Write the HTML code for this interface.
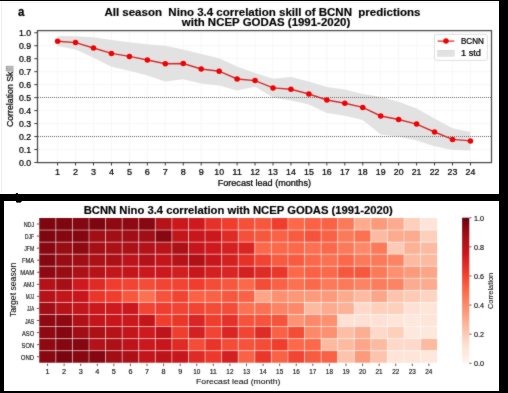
<!DOCTYPE html><html><head><meta charset="utf-8"><style>html,body{margin:0;padding:0;background:#fff;width:508px;height:393px;overflow:hidden}</style></head><body><svg width="508" height="393" viewBox="0 0 508 393" style="display:block" font-family='"Liberation Sans", sans-serif'>
<defs><filter id='bl' x='0' y='0' width='508' height='393' filterUnits='userSpaceOnUse' color-interpolation-filters='sRGB'><feConvolveMatrix order='3' kernelMatrix='1 2 1 2 24 2 1 2 1' edgeMode='duplicate' preserveAlpha='true'/></filter></defs>
<g filter='url(#bl)'>
<rect x="0" y="0" width="508" height="393" fill="#fff"/>
<line x1="37.5" x2="491.5" y1="162.50" y2="162.50" stroke="#f5f5f5" stroke-width="0.8"/>
<line x1="37.5" x2="491.5" y1="149.53" y2="149.53" stroke="#f5f5f5" stroke-width="0.8"/>
<line x1="37.5" x2="491.5" y1="136.55" y2="136.55" stroke="#f5f5f5" stroke-width="0.8"/>
<line x1="37.5" x2="491.5" y1="123.58" y2="123.58" stroke="#f5f5f5" stroke-width="0.8"/>
<line x1="37.5" x2="491.5" y1="110.60" y2="110.60" stroke="#f5f5f5" stroke-width="0.8"/>
<line x1="37.5" x2="491.5" y1="97.62" y2="97.62" stroke="#f5f5f5" stroke-width="0.8"/>
<line x1="37.5" x2="491.5" y1="84.65" y2="84.65" stroke="#f5f5f5" stroke-width="0.8"/>
<line x1="37.5" x2="491.5" y1="71.68" y2="71.68" stroke="#f5f5f5" stroke-width="0.8"/>
<line x1="37.5" x2="491.5" y1="58.70" y2="58.70" stroke="#f5f5f5" stroke-width="0.8"/>
<line x1="37.5" x2="491.5" y1="45.72" y2="45.72" stroke="#f5f5f5" stroke-width="0.8"/>
<line x1="37.5" x2="491.5" y1="32.75" y2="32.75" stroke="#f5f5f5" stroke-width="0.8"/>
<line x1="57.60" x2="57.60" y1="30.5" y2="162.5" stroke="#f5f5f5" stroke-width="0.8"/>
<line x1="75.55" x2="75.55" y1="30.5" y2="162.5" stroke="#f5f5f5" stroke-width="0.8"/>
<line x1="93.50" x2="93.50" y1="30.5" y2="162.5" stroke="#f5f5f5" stroke-width="0.8"/>
<line x1="111.45" x2="111.45" y1="30.5" y2="162.5" stroke="#f5f5f5" stroke-width="0.8"/>
<line x1="129.40" x2="129.40" y1="30.5" y2="162.5" stroke="#f5f5f5" stroke-width="0.8"/>
<line x1="147.35" x2="147.35" y1="30.5" y2="162.5" stroke="#f5f5f5" stroke-width="0.8"/>
<line x1="165.30" x2="165.30" y1="30.5" y2="162.5" stroke="#f5f5f5" stroke-width="0.8"/>
<line x1="183.25" x2="183.25" y1="30.5" y2="162.5" stroke="#f5f5f5" stroke-width="0.8"/>
<line x1="201.20" x2="201.20" y1="30.5" y2="162.5" stroke="#f5f5f5" stroke-width="0.8"/>
<line x1="219.15" x2="219.15" y1="30.5" y2="162.5" stroke="#f5f5f5" stroke-width="0.8"/>
<line x1="237.10" x2="237.10" y1="30.5" y2="162.5" stroke="#f5f5f5" stroke-width="0.8"/>
<line x1="255.05" x2="255.05" y1="30.5" y2="162.5" stroke="#f5f5f5" stroke-width="0.8"/>
<line x1="273.00" x2="273.00" y1="30.5" y2="162.5" stroke="#f5f5f5" stroke-width="0.8"/>
<line x1="290.95" x2="290.95" y1="30.5" y2="162.5" stroke="#f5f5f5" stroke-width="0.8"/>
<line x1="308.90" x2="308.90" y1="30.5" y2="162.5" stroke="#f5f5f5" stroke-width="0.8"/>
<line x1="326.85" x2="326.85" y1="30.5" y2="162.5" stroke="#f5f5f5" stroke-width="0.8"/>
<line x1="344.80" x2="344.80" y1="30.5" y2="162.5" stroke="#f5f5f5" stroke-width="0.8"/>
<line x1="362.75" x2="362.75" y1="30.5" y2="162.5" stroke="#f5f5f5" stroke-width="0.8"/>
<line x1="380.70" x2="380.70" y1="30.5" y2="162.5" stroke="#f5f5f5" stroke-width="0.8"/>
<line x1="398.65" x2="398.65" y1="30.5" y2="162.5" stroke="#f5f5f5" stroke-width="0.8"/>
<line x1="416.60" x2="416.60" y1="30.5" y2="162.5" stroke="#f5f5f5" stroke-width="0.8"/>
<line x1="434.55" x2="434.55" y1="30.5" y2="162.5" stroke="#f5f5f5" stroke-width="0.8"/>
<line x1="452.50" x2="452.50" y1="30.5" y2="162.5" stroke="#f5f5f5" stroke-width="0.8"/>
<line x1="470.45" x2="470.45" y1="30.5" y2="162.5" stroke="#f5f5f5" stroke-width="0.8"/>
<polygon points="57.60,36.10 75.55,36.20 93.50,37.20 111.45,40.10 129.40,42.20 147.35,44.20 165.30,45.80 183.25,49.50 201.20,54.00 219.15,58.30 237.10,66.50 255.05,72.90 273.00,78.80 290.95,77.10 308.90,81.50 326.85,87.10 344.80,89.60 362.75,94.10 380.70,97.00 398.65,101.80 416.60,108.60 434.55,118.60 452.50,128.30 470.45,132.00 470.45,150.40 452.50,150.00 434.55,146.30 416.60,140.50 398.65,136.50 380.70,134.50 362.75,120.10 344.80,115.70 326.85,113.00 308.90,104.40 290.95,100.60 273.00,97.40 255.05,86.80 237.10,90.40 219.15,85.50 201.20,83.40 183.25,79.20 165.30,81.50 147.35,75.50 129.40,70.80 111.45,66.80 93.50,57.80 75.55,49.50 57.60,45.90" fill="#e2e2e2"/>
<line x1="38" x2="491" y1="97.50" y2="97.50" stroke="#6e6e6e" stroke-width="1" stroke-dasharray="1 1"/>
<line x1="38" x2="491" y1="136.50" y2="136.50" stroke="#6e6e6e" stroke-width="1" stroke-dasharray="1 1"/>
<polyline points="57.60,41.20 75.55,42.60 93.50,48.00 111.45,53.40 129.40,56.40 147.35,60.00 165.30,63.70 183.25,63.50 201.20,69.00 219.15,71.20 237.10,79.00 255.05,80.60 273.00,87.90 290.95,89.20 308.90,94.00 326.85,100.00 344.80,103.30 362.75,107.40 380.70,116.00 398.65,119.50 416.60,124.10 434.55,132.00 452.50,139.40 470.45,140.90" fill="none" stroke="#d82a2a" stroke-width="1.4"/>
<circle cx="57.60" cy="41.20" r="2.75" fill="#f00000"/>
<circle cx="75.55" cy="42.60" r="2.75" fill="#f00000"/>
<circle cx="93.50" cy="48.00" r="2.75" fill="#f00000"/>
<circle cx="111.45" cy="53.40" r="2.75" fill="#f00000"/>
<circle cx="129.40" cy="56.40" r="2.75" fill="#f00000"/>
<circle cx="147.35" cy="60.00" r="2.75" fill="#f00000"/>
<circle cx="165.30" cy="63.70" r="2.75" fill="#f00000"/>
<circle cx="183.25" cy="63.50" r="2.75" fill="#f00000"/>
<circle cx="201.20" cy="69.00" r="2.75" fill="#f00000"/>
<circle cx="219.15" cy="71.20" r="2.75" fill="#f00000"/>
<circle cx="237.10" cy="79.00" r="2.75" fill="#f00000"/>
<circle cx="255.05" cy="80.60" r="2.75" fill="#f00000"/>
<circle cx="273.00" cy="87.90" r="2.75" fill="#f00000"/>
<circle cx="290.95" cy="89.20" r="2.75" fill="#f00000"/>
<circle cx="308.90" cy="94.00" r="2.75" fill="#f00000"/>
<circle cx="326.85" cy="100.00" r="2.75" fill="#f00000"/>
<circle cx="344.80" cy="103.30" r="2.75" fill="#f00000"/>
<circle cx="362.75" cy="107.40" r="2.75" fill="#f00000"/>
<circle cx="380.70" cy="116.00" r="2.75" fill="#f00000"/>
<circle cx="398.65" cy="119.50" r="2.75" fill="#f00000"/>
<circle cx="416.60" cy="124.10" r="2.75" fill="#f00000"/>
<circle cx="434.55" cy="132.00" r="2.75" fill="#f00000"/>
<circle cx="452.50" cy="139.40" r="2.75" fill="#f00000"/>
<circle cx="470.45" cy="140.90" r="2.75" fill="#f00000"/>
<rect x="37.5" y="30.6" width="454.0" height="132.0" fill="none" stroke="#4a4a4a" stroke-width="1.25"/>
<line x1="34.3" x2="37.5" y1="162.50" y2="162.50" stroke="#3a3a3a" stroke-width="1"/>
<text xml:space="preserve" x="31.10" y="165.50" font-size="8.59" fill="#000" stroke="#000" stroke-width="0.24" text-anchor="end" textLength="12.20" lengthAdjust="spacingAndGlyphs">0.0</text>
<line x1="34.3" x2="37.5" y1="149.53" y2="149.53" stroke="#3a3a3a" stroke-width="1"/>
<text xml:space="preserve" x="31.10" y="152.53" font-size="8.59" fill="#000" stroke="#000" stroke-width="0.24" text-anchor="end" textLength="12.20" lengthAdjust="spacingAndGlyphs">0.1</text>
<line x1="34.3" x2="37.5" y1="136.55" y2="136.55" stroke="#3a3a3a" stroke-width="1"/>
<text xml:space="preserve" x="31.10" y="139.55" font-size="8.59" fill="#000" stroke="#000" stroke-width="0.24" text-anchor="end" textLength="12.20" lengthAdjust="spacingAndGlyphs">0.2</text>
<line x1="34.3" x2="37.5" y1="123.58" y2="123.58" stroke="#3a3a3a" stroke-width="1"/>
<text xml:space="preserve" x="31.10" y="126.58" font-size="8.59" fill="#000" stroke="#000" stroke-width="0.24" text-anchor="end" textLength="12.20" lengthAdjust="spacingAndGlyphs">0.3</text>
<line x1="34.3" x2="37.5" y1="110.60" y2="110.60" stroke="#3a3a3a" stroke-width="1"/>
<text xml:space="preserve" x="31.10" y="113.60" font-size="8.59" fill="#000" stroke="#000" stroke-width="0.24" text-anchor="end" textLength="12.20" lengthAdjust="spacingAndGlyphs">0.4</text>
<line x1="34.3" x2="37.5" y1="97.62" y2="97.62" stroke="#3a3a3a" stroke-width="1"/>
<text xml:space="preserve" x="31.10" y="100.62" font-size="8.59" fill="#000" stroke="#000" stroke-width="0.24" text-anchor="end" textLength="12.20" lengthAdjust="spacingAndGlyphs">0.5</text>
<line x1="34.3" x2="37.5" y1="84.65" y2="84.65" stroke="#3a3a3a" stroke-width="1"/>
<text xml:space="preserve" x="31.10" y="87.65" font-size="8.59" fill="#000" stroke="#000" stroke-width="0.24" text-anchor="end" textLength="12.20" lengthAdjust="spacingAndGlyphs">0.6</text>
<line x1="34.3" x2="37.5" y1="71.68" y2="71.68" stroke="#3a3a3a" stroke-width="1"/>
<text xml:space="preserve" x="31.10" y="74.68" font-size="8.59" fill="#000" stroke="#000" stroke-width="0.24" text-anchor="end" textLength="12.20" lengthAdjust="spacingAndGlyphs">0.7</text>
<line x1="34.3" x2="37.5" y1="58.70" y2="58.70" stroke="#3a3a3a" stroke-width="1"/>
<text xml:space="preserve" x="31.10" y="61.70" font-size="8.59" fill="#000" stroke="#000" stroke-width="0.24" text-anchor="end" textLength="12.20" lengthAdjust="spacingAndGlyphs">0.8</text>
<line x1="34.3" x2="37.5" y1="45.72" y2="45.72" stroke="#3a3a3a" stroke-width="1"/>
<text xml:space="preserve" x="31.10" y="48.72" font-size="8.59" fill="#000" stroke="#000" stroke-width="0.24" text-anchor="end" textLength="12.20" lengthAdjust="spacingAndGlyphs">0.9</text>
<line x1="34.3" x2="37.5" y1="32.75" y2="32.75" stroke="#3a3a3a" stroke-width="1"/>
<text xml:space="preserve" x="31.10" y="35.75" font-size="8.59" fill="#000" stroke="#000" stroke-width="0.24" text-anchor="end" textLength="12.20" lengthAdjust="spacingAndGlyphs">1.0</text>
<line x1="57.60" x2="57.60" y1="162.5" y2="165.5" stroke="#3a3a3a" stroke-width="1"/>
<text xml:space="preserve" x="57.60" y="175.00" font-size="9.05" fill="#000" stroke="#000" stroke-width="0.24" text-anchor="middle">1</text>
<line x1="75.55" x2="75.55" y1="162.5" y2="165.5" stroke="#3a3a3a" stroke-width="1"/>
<text xml:space="preserve" x="75.55" y="175.00" font-size="9.05" fill="#000" stroke="#000" stroke-width="0.24" text-anchor="middle">2</text>
<line x1="93.50" x2="93.50" y1="162.5" y2="165.5" stroke="#3a3a3a" stroke-width="1"/>
<text xml:space="preserve" x="93.50" y="175.00" font-size="9.05" fill="#000" stroke="#000" stroke-width="0.24" text-anchor="middle">3</text>
<line x1="111.45" x2="111.45" y1="162.5" y2="165.5" stroke="#3a3a3a" stroke-width="1"/>
<text xml:space="preserve" x="111.45" y="175.00" font-size="9.05" fill="#000" stroke="#000" stroke-width="0.24" text-anchor="middle">4</text>
<line x1="129.40" x2="129.40" y1="162.5" y2="165.5" stroke="#3a3a3a" stroke-width="1"/>
<text xml:space="preserve" x="129.40" y="175.00" font-size="9.05" fill="#000" stroke="#000" stroke-width="0.24" text-anchor="middle">5</text>
<line x1="147.35" x2="147.35" y1="162.5" y2="165.5" stroke="#3a3a3a" stroke-width="1"/>
<text xml:space="preserve" x="147.35" y="175.00" font-size="9.05" fill="#000" stroke="#000" stroke-width="0.24" text-anchor="middle">6</text>
<line x1="165.30" x2="165.30" y1="162.5" y2="165.5" stroke="#3a3a3a" stroke-width="1"/>
<text xml:space="preserve" x="165.30" y="175.00" font-size="9.05" fill="#000" stroke="#000" stroke-width="0.24" text-anchor="middle">7</text>
<line x1="183.25" x2="183.25" y1="162.5" y2="165.5" stroke="#3a3a3a" stroke-width="1"/>
<text xml:space="preserve" x="183.25" y="175.00" font-size="9.05" fill="#000" stroke="#000" stroke-width="0.24" text-anchor="middle">8</text>
<line x1="201.20" x2="201.20" y1="162.5" y2="165.5" stroke="#3a3a3a" stroke-width="1"/>
<text xml:space="preserve" x="201.20" y="175.00" font-size="9.05" fill="#000" stroke="#000" stroke-width="0.24" text-anchor="middle">9</text>
<line x1="219.15" x2="219.15" y1="162.5" y2="165.5" stroke="#3a3a3a" stroke-width="1"/>
<text xml:space="preserve" x="219.15" y="175.00" font-size="9.05" fill="#000" stroke="#000" stroke-width="0.24" text-anchor="middle" textLength="9.76" lengthAdjust="spacingAndGlyphs">10</text>
<line x1="237.10" x2="237.10" y1="162.5" y2="165.5" stroke="#3a3a3a" stroke-width="1"/>
<text xml:space="preserve" x="237.10" y="175.00" font-size="9.05" fill="#000" stroke="#000" stroke-width="0.24" text-anchor="middle" textLength="9.76" lengthAdjust="spacingAndGlyphs">11</text>
<line x1="255.05" x2="255.05" y1="162.5" y2="165.5" stroke="#3a3a3a" stroke-width="1"/>
<text xml:space="preserve" x="255.05" y="175.00" font-size="9.05" fill="#000" stroke="#000" stroke-width="0.24" text-anchor="middle" textLength="9.76" lengthAdjust="spacingAndGlyphs">12</text>
<line x1="273.00" x2="273.00" y1="162.5" y2="165.5" stroke="#3a3a3a" stroke-width="1"/>
<text xml:space="preserve" x="273.00" y="175.00" font-size="9.05" fill="#000" stroke="#000" stroke-width="0.24" text-anchor="middle" textLength="9.76" lengthAdjust="spacingAndGlyphs">13</text>
<line x1="290.95" x2="290.95" y1="162.5" y2="165.5" stroke="#3a3a3a" stroke-width="1"/>
<text xml:space="preserve" x="290.95" y="175.00" font-size="9.05" fill="#000" stroke="#000" stroke-width="0.24" text-anchor="middle" textLength="9.76" lengthAdjust="spacingAndGlyphs">14</text>
<line x1="308.90" x2="308.90" y1="162.5" y2="165.5" stroke="#3a3a3a" stroke-width="1"/>
<text xml:space="preserve" x="308.90" y="175.00" font-size="9.05" fill="#000" stroke="#000" stroke-width="0.24" text-anchor="middle" textLength="9.76" lengthAdjust="spacingAndGlyphs">15</text>
<line x1="326.85" x2="326.85" y1="162.5" y2="165.5" stroke="#3a3a3a" stroke-width="1"/>
<text xml:space="preserve" x="326.85" y="175.00" font-size="9.05" fill="#000" stroke="#000" stroke-width="0.24" text-anchor="middle" textLength="9.76" lengthAdjust="spacingAndGlyphs">16</text>
<line x1="344.80" x2="344.80" y1="162.5" y2="165.5" stroke="#3a3a3a" stroke-width="1"/>
<text xml:space="preserve" x="344.80" y="175.00" font-size="9.05" fill="#000" stroke="#000" stroke-width="0.24" text-anchor="middle" textLength="9.76" lengthAdjust="spacingAndGlyphs">17</text>
<line x1="362.75" x2="362.75" y1="162.5" y2="165.5" stroke="#3a3a3a" stroke-width="1"/>
<text xml:space="preserve" x="362.75" y="175.00" font-size="9.05" fill="#000" stroke="#000" stroke-width="0.24" text-anchor="middle" textLength="9.76" lengthAdjust="spacingAndGlyphs">18</text>
<line x1="380.70" x2="380.70" y1="162.5" y2="165.5" stroke="#3a3a3a" stroke-width="1"/>
<text xml:space="preserve" x="380.70" y="175.00" font-size="9.05" fill="#000" stroke="#000" stroke-width="0.24" text-anchor="middle" textLength="9.76" lengthAdjust="spacingAndGlyphs">19</text>
<line x1="398.65" x2="398.65" y1="162.5" y2="165.5" stroke="#3a3a3a" stroke-width="1"/>
<text xml:space="preserve" x="398.65" y="175.00" font-size="9.05" fill="#000" stroke="#000" stroke-width="0.24" text-anchor="middle" textLength="9.76" lengthAdjust="spacingAndGlyphs">20</text>
<line x1="416.60" x2="416.60" y1="162.5" y2="165.5" stroke="#3a3a3a" stroke-width="1"/>
<text xml:space="preserve" x="416.60" y="175.00" font-size="9.05" fill="#000" stroke="#000" stroke-width="0.24" text-anchor="middle" textLength="9.76" lengthAdjust="spacingAndGlyphs">21</text>
<line x1="434.55" x2="434.55" y1="162.5" y2="165.5" stroke="#3a3a3a" stroke-width="1"/>
<text xml:space="preserve" x="434.55" y="175.00" font-size="9.05" fill="#000" stroke="#000" stroke-width="0.24" text-anchor="middle" textLength="9.76" lengthAdjust="spacingAndGlyphs">22</text>
<line x1="452.50" x2="452.50" y1="162.5" y2="165.5" stroke="#3a3a3a" stroke-width="1"/>
<text xml:space="preserve" x="452.50" y="175.00" font-size="9.05" fill="#000" stroke="#000" stroke-width="0.24" text-anchor="middle" textLength="9.76" lengthAdjust="spacingAndGlyphs">23</text>
<line x1="470.45" x2="470.45" y1="162.5" y2="165.5" stroke="#3a3a3a" stroke-width="1"/>
<text xml:space="preserve" x="470.45" y="175.00" font-size="9.05" fill="#000" stroke="#000" stroke-width="0.24" text-anchor="middle" textLength="9.76" lengthAdjust="spacingAndGlyphs">24</text>
<text xml:space="preserve" x="217.70" y="186.20" font-size="8.39" fill="#000" stroke="#000" stroke-width="0.24" text-anchor="start" textLength="93.30" lengthAdjust="spacingAndGlyphs">Forecast lead (months)</text>
<text xml:space="preserve" transform="translate(13.30,127.10) rotate(-90)" font-size="8.58" fill="#000" stroke="#000" stroke-width="0.24" text-anchor="start" textLength="61.40" lengthAdjust="spacingAndGlyphs">Correlation Skill</text>
<rect x="6.2" y="65.8" width="7.2" height="5.7" fill="#b0b0b0"/>
<rect x="7.6" y="67.6" width="5.2" height="0.8" fill="#c4c4c4"/>
<text xml:space="preserve" transform="translate(18.0,15.7) scale(0.86,1)" font-size="13.4" font-weight="bold" fill="#000" stroke="#000" stroke-width="0.25">a</text>
<text xml:space="preserve" x="104.40" y="15.80" font-size="10.16" font-weight="bold" fill="#000" stroke="#000" stroke-width="0.15" text-anchor="start" textLength="316.00" lengthAdjust="spacingAndGlyphs">All season  Nino 3.4 correlation skill of BCNN  predictions</text>
<text xml:space="preserve" x="181.80" y="26.10" font-size="10.08" font-weight="bold" fill="#000" stroke="#000" stroke-width="0.15" text-anchor="start" textLength="168.40" lengthAdjust="spacingAndGlyphs">with NCEP GODAS (1991-2020)</text>
<rect x="434.5" y="34.4" width="52.9" height="26" rx="2" fill="#fff" fill-opacity="0.85" stroke="#d8d8d8" stroke-width="0.8"/>
<line x1="437.6" x2="454.3" y1="41.1" y2="41.1" stroke="#e03030" stroke-width="1.3"/>
<circle cx="446.0" cy="41.1" r="2.75" fill="#f00000"/>
<rect x="437.6" y="50.2" width="16.7" height="6" fill="#e2e2e2" stroke="#d0d0d0" stroke-width="0.4"/>
<text xml:space="preserve" x="461.00" y="43.90" font-size="8.28" fill="#000" stroke="#000" stroke-width="0.24" text-anchor="start" textLength="22.80" lengthAdjust="spacingAndGlyphs">BCNN</text>
<text xml:space="preserve" x="461.00" y="56.00" font-size="8.28" fill="#000" stroke="#000" stroke-width="0.24" text-anchor="start" textLength="19.91" lengthAdjust="spacingAndGlyphs">1 std</text>
<rect x="39.25" y="218.00" width="16.58" height="12.06" fill="#7e0610"/>
<rect x="55.83" y="218.00" width="16.58" height="12.06" fill="#7e0610"/>
<rect x="72.41" y="218.00" width="16.58" height="12.06" fill="#840711"/>
<rect x="88.99" y="218.00" width="16.58" height="12.06" fill="#7e0610"/>
<rect x="105.57" y="218.00" width="16.58" height="12.06" fill="#8e0912"/>
<rect x="122.15" y="218.00" width="16.58" height="12.06" fill="#8e0912"/>
<rect x="138.73" y="218.00" width="16.58" height="12.06" fill="#880811"/>
<rect x="155.31" y="218.00" width="16.58" height="12.06" fill="#b61319"/>
<rect x="171.89" y="218.00" width="16.58" height="12.06" fill="#ca181d"/>
<rect x="188.47" y="218.00" width="16.58" height="12.06" fill="#ce1a1e"/>
<rect x="205.05" y="218.00" width="16.58" height="12.06" fill="#e53228"/>
<rect x="221.63" y="218.00" width="16.58" height="12.06" fill="#f03d2d"/>
<rect x="238.21" y="218.00" width="16.58" height="12.06" fill="#f4503a"/>
<rect x="254.79" y="218.00" width="16.58" height="12.06" fill="#f6583e"/>
<rect x="271.37" y="218.00" width="16.58" height="12.06" fill="#f03d2d"/>
<rect x="287.95" y="218.00" width="16.58" height="12.06" fill="#fb694a"/>
<rect x="304.53" y="218.00" width="16.58" height="12.06" fill="#f96245"/>
<rect x="321.11" y="218.00" width="16.58" height="12.06" fill="#f96245"/>
<rect x="337.69" y="218.00" width="16.58" height="12.06" fill="#fb7a5a"/>
<rect x="354.27" y="218.00" width="16.58" height="12.06" fill="#fcab8f"/>
<rect x="370.85" y="218.00" width="16.58" height="12.06" fill="#fc9b7c"/>
<rect x="387.43" y="218.00" width="16.58" height="12.06" fill="#fcab8f"/>
<rect x="404.01" y="218.00" width="16.58" height="12.06" fill="#fdd0bc"/>
<rect x="420.59" y="218.00" width="16.58" height="12.06" fill="#fee5d8"/>
<rect x="39.25" y="230.06" width="16.58" height="12.06" fill="#7e0610"/>
<rect x="55.83" y="230.06" width="16.58" height="12.06" fill="#840711"/>
<rect x="72.41" y="230.06" width="16.58" height="12.06" fill="#840711"/>
<rect x="88.99" y="230.06" width="16.58" height="12.06" fill="#a10e15"/>
<rect x="105.57" y="230.06" width="16.58" height="12.06" fill="#a10e15"/>
<rect x="122.15" y="230.06" width="16.58" height="12.06" fill="#a10e15"/>
<rect x="138.73" y="230.06" width="16.58" height="12.06" fill="#a10e15"/>
<rect x="155.31" y="230.06" width="16.58" height="12.06" fill="#880811"/>
<rect x="171.89" y="230.06" width="16.58" height="12.06" fill="#c2161b"/>
<rect x="188.47" y="230.06" width="16.58" height="12.06" fill="#c8171c"/>
<rect x="205.05" y="230.06" width="16.58" height="12.06" fill="#ca181d"/>
<rect x="221.63" y="230.06" width="16.58" height="12.06" fill="#de2b25"/>
<rect x="238.21" y="230.06" width="16.58" height="12.06" fill="#f4503a"/>
<rect x="254.79" y="230.06" width="16.58" height="12.06" fill="#f6583e"/>
<rect x="271.37" y="230.06" width="16.58" height="12.06" fill="#f96245"/>
<rect x="287.95" y="230.06" width="16.58" height="12.06" fill="#f75b40"/>
<rect x="304.53" y="230.06" width="16.58" height="12.06" fill="#f5533b"/>
<rect x="321.11" y="230.06" width="16.58" height="12.06" fill="#f96245"/>
<rect x="337.69" y="230.06" width="16.58" height="12.06" fill="#fb7a5a"/>
<rect x="354.27" y="230.06" width="16.58" height="12.06" fill="#fb7151"/>
<rect x="370.85" y="230.06" width="16.58" height="12.06" fill="#fcbba1"/>
<rect x="387.43" y="230.06" width="16.58" height="12.06" fill="#fcab8f"/>
<rect x="404.01" y="230.06" width="16.58" height="12.06" fill="#fcab8f"/>
<rect x="420.59" y="230.06" width="16.58" height="12.06" fill="#fdd0bc"/>
<rect x="39.25" y="242.12" width="16.58" height="12.06" fill="#880811"/>
<rect x="55.83" y="242.12" width="16.58" height="12.06" fill="#980c13"/>
<rect x="72.41" y="242.12" width="16.58" height="12.06" fill="#8e0912"/>
<rect x="88.99" y="242.12" width="16.58" height="12.06" fill="#a60f15"/>
<rect x="105.57" y="242.12" width="16.58" height="12.06" fill="#ac1117"/>
<rect x="122.15" y="242.12" width="16.58" height="12.06" fill="#ac1117"/>
<rect x="138.73" y="242.12" width="16.58" height="12.06" fill="#b21218"/>
<rect x="155.31" y="242.12" width="16.58" height="12.06" fill="#b81419"/>
<rect x="171.89" y="242.12" width="16.58" height="12.06" fill="#ac1117"/>
<rect x="188.47" y="242.12" width="16.58" height="12.06" fill="#c4161c"/>
<rect x="205.05" y="242.12" width="16.58" height="12.06" fill="#ce1a1e"/>
<rect x="221.63" y="242.12" width="16.58" height="12.06" fill="#d32020"/>
<rect x="238.21" y="242.12" width="16.58" height="12.06" fill="#d92523"/>
<rect x="254.79" y="242.12" width="16.58" height="12.06" fill="#fb694a"/>
<rect x="271.37" y="242.12" width="16.58" height="12.06" fill="#fb694a"/>
<rect x="287.95" y="242.12" width="16.58" height="12.06" fill="#fb694a"/>
<rect x="304.53" y="242.12" width="16.58" height="12.06" fill="#fb7151"/>
<rect x="321.11" y="242.12" width="16.58" height="12.06" fill="#fb694a"/>
<rect x="337.69" y="242.12" width="16.58" height="12.06" fill="#fb7a5a"/>
<rect x="354.27" y="242.12" width="16.58" height="12.06" fill="#fc8a6a"/>
<rect x="370.85" y="242.12" width="16.58" height="12.06" fill="#fb7a5a"/>
<rect x="387.43" y="242.12" width="16.58" height="12.06" fill="#fdcab5"/>
<rect x="404.01" y="242.12" width="16.58" height="12.06" fill="#fcb296"/>
<rect x="420.59" y="242.12" width="16.58" height="12.06" fill="#fcbba1"/>
<rect x="39.25" y="254.18" width="16.58" height="12.06" fill="#840711"/>
<rect x="55.83" y="254.18" width="16.58" height="12.06" fill="#980c13"/>
<rect x="72.41" y="254.18" width="16.58" height="12.06" fill="#a10e15"/>
<rect x="88.99" y="254.18" width="16.58" height="12.06" fill="#ac1117"/>
<rect x="105.57" y="254.18" width="16.58" height="12.06" fill="#ac1117"/>
<rect x="122.15" y="254.18" width="16.58" height="12.06" fill="#bc141a"/>
<rect x="138.73" y="254.18" width="16.58" height="12.06" fill="#b21218"/>
<rect x="155.31" y="254.18" width="16.58" height="12.06" fill="#c2161b"/>
<rect x="171.89" y="254.18" width="16.58" height="12.06" fill="#b61319"/>
<rect x="188.47" y="254.18" width="16.58" height="12.06" fill="#af1117"/>
<rect x="205.05" y="254.18" width="16.58" height="12.06" fill="#c8171c"/>
<rect x="221.63" y="254.18" width="16.58" height="12.06" fill="#d32020"/>
<rect x="238.21" y="254.18" width="16.58" height="12.06" fill="#e53228"/>
<rect x="254.79" y="254.18" width="16.58" height="12.06" fill="#f14432"/>
<rect x="271.37" y="254.18" width="16.58" height="12.06" fill="#f75b40"/>
<rect x="287.95" y="254.18" width="16.58" height="12.06" fill="#f75b40"/>
<rect x="304.53" y="254.18" width="16.58" height="12.06" fill="#fb694a"/>
<rect x="321.11" y="254.18" width="16.58" height="12.06" fill="#fb7151"/>
<rect x="337.69" y="254.18" width="16.58" height="12.06" fill="#fb694a"/>
<rect x="354.27" y="254.18" width="16.58" height="12.06" fill="#fb7a5a"/>
<rect x="370.85" y="254.18" width="16.58" height="12.06" fill="#fb7a5a"/>
<rect x="387.43" y="254.18" width="16.58" height="12.06" fill="#fc8464"/>
<rect x="404.01" y="254.18" width="16.58" height="12.06" fill="#fcbba1"/>
<rect x="420.59" y="254.18" width="16.58" height="12.06" fill="#fcbba1"/>
<rect x="39.25" y="266.24" width="16.58" height="12.06" fill="#8e0912"/>
<rect x="55.83" y="266.24" width="16.58" height="12.06" fill="#980c13"/>
<rect x="72.41" y="266.24" width="16.58" height="12.06" fill="#ac1117"/>
<rect x="88.99" y="266.24" width="16.58" height="12.06" fill="#b61319"/>
<rect x="105.57" y="266.24" width="16.58" height="12.06" fill="#c2161b"/>
<rect x="122.15" y="266.24" width="16.58" height="12.06" fill="#c2161b"/>
<rect x="138.73" y="266.24" width="16.58" height="12.06" fill="#ca181d"/>
<rect x="155.31" y="266.24" width="16.58" height="12.06" fill="#ca181d"/>
<rect x="171.89" y="266.24" width="16.58" height="12.06" fill="#d11e1f"/>
<rect x="188.47" y="266.24" width="16.58" height="12.06" fill="#c8171c"/>
<rect x="205.05" y="266.24" width="16.58" height="12.06" fill="#d32020"/>
<rect x="221.63" y="266.24" width="16.58" height="12.06" fill="#d92523"/>
<rect x="238.21" y="266.24" width="16.58" height="12.06" fill="#d32020"/>
<rect x="254.79" y="266.24" width="16.58" height="12.06" fill="#de2b25"/>
<rect x="271.37" y="266.24" width="16.58" height="12.06" fill="#eb372a"/>
<rect x="287.95" y="266.24" width="16.58" height="12.06" fill="#fb694a"/>
<rect x="304.53" y="266.24" width="16.58" height="12.06" fill="#f96245"/>
<rect x="321.11" y="266.24" width="16.58" height="12.06" fill="#fb694a"/>
<rect x="337.69" y="266.24" width="16.58" height="12.06" fill="#f6583e"/>
<rect x="354.27" y="266.24" width="16.58" height="12.06" fill="#f6583e"/>
<rect x="370.85" y="266.24" width="16.58" height="12.06" fill="#fb7a5a"/>
<rect x="387.43" y="266.24" width="16.58" height="12.06" fill="#fc9070"/>
<rect x="404.01" y="266.24" width="16.58" height="12.06" fill="#fc9b7c"/>
<rect x="420.59" y="266.24" width="16.58" height="12.06" fill="#fca588"/>
<rect x="39.25" y="278.30" width="16.58" height="12.06" fill="#b21218"/>
<rect x="55.83" y="278.30" width="16.58" height="12.06" fill="#a60f15"/>
<rect x="72.41" y="278.30" width="16.58" height="12.06" fill="#ce1a1e"/>
<rect x="88.99" y="278.30" width="16.58" height="12.06" fill="#de2b25"/>
<rect x="105.57" y="278.30" width="16.58" height="12.06" fill="#f03d2d"/>
<rect x="122.15" y="278.30" width="16.58" height="12.06" fill="#f14432"/>
<rect x="138.73" y="278.30" width="16.58" height="12.06" fill="#f34c37"/>
<rect x="155.31" y="278.30" width="16.58" height="12.06" fill="#f14432"/>
<rect x="171.89" y="278.30" width="16.58" height="12.06" fill="#f14432"/>
<rect x="188.47" y="278.30" width="16.58" height="12.06" fill="#f03d2d"/>
<rect x="205.05" y="278.30" width="16.58" height="12.06" fill="#f34c37"/>
<rect x="221.63" y="278.30" width="16.58" height="12.06" fill="#f6583e"/>
<rect x="238.21" y="278.30" width="16.58" height="12.06" fill="#fb694a"/>
<rect x="254.79" y="278.30" width="16.58" height="12.06" fill="#f34c37"/>
<rect x="271.37" y="278.30" width="16.58" height="12.06" fill="#f96245"/>
<rect x="287.95" y="278.30" width="16.58" height="12.06" fill="#fb7151"/>
<rect x="304.53" y="278.30" width="16.58" height="12.06" fill="#fb694a"/>
<rect x="321.11" y="278.30" width="16.58" height="12.06" fill="#fb7a5a"/>
<rect x="337.69" y="278.30" width="16.58" height="12.06" fill="#fb7a5a"/>
<rect x="354.27" y="278.30" width="16.58" height="12.06" fill="#fc8464"/>
<rect x="370.85" y="278.30" width="16.58" height="12.06" fill="#fb7d5d"/>
<rect x="387.43" y="278.30" width="16.58" height="12.06" fill="#fc8464"/>
<rect x="404.01" y="278.30" width="16.58" height="12.06" fill="#fcab8f"/>
<rect x="420.59" y="278.30" width="16.58" height="12.06" fill="#fcab8f"/>
<rect x="39.25" y="290.36" width="16.58" height="12.06" fill="#b61319"/>
<rect x="55.83" y="290.36" width="16.58" height="12.06" fill="#c2161b"/>
<rect x="72.41" y="290.36" width="16.58" height="12.06" fill="#c8171c"/>
<rect x="88.99" y="290.36" width="16.58" height="12.06" fill="#eb372a"/>
<rect x="105.57" y="290.36" width="16.58" height="12.06" fill="#f03d2d"/>
<rect x="122.15" y="290.36" width="16.58" height="12.06" fill="#f6583e"/>
<rect x="138.73" y="290.36" width="16.58" height="12.06" fill="#fb7151"/>
<rect x="155.31" y="290.36" width="16.58" height="12.06" fill="#f5533b"/>
<rect x="171.89" y="290.36" width="16.58" height="12.06" fill="#f14432"/>
<rect x="188.47" y="290.36" width="16.58" height="12.06" fill="#f96245"/>
<rect x="205.05" y="290.36" width="16.58" height="12.06" fill="#f96245"/>
<rect x="221.63" y="290.36" width="16.58" height="12.06" fill="#f6583e"/>
<rect x="238.21" y="290.36" width="16.58" height="12.06" fill="#f96245"/>
<rect x="254.79" y="290.36" width="16.58" height="12.06" fill="#fca588"/>
<rect x="271.37" y="290.36" width="16.58" height="12.06" fill="#fc9070"/>
<rect x="287.95" y="290.36" width="16.58" height="12.06" fill="#fc9777"/>
<rect x="304.53" y="290.36" width="16.58" height="12.06" fill="#fc9b7c"/>
<rect x="321.11" y="290.36" width="16.58" height="12.06" fill="#fc9b7c"/>
<rect x="337.69" y="290.36" width="16.58" height="12.06" fill="#fcab8f"/>
<rect x="354.27" y="290.36" width="16.58" height="12.06" fill="#fcbba1"/>
<rect x="370.85" y="290.36" width="16.58" height="12.06" fill="#fca588"/>
<rect x="387.43" y="290.36" width="16.58" height="12.06" fill="#fcc4ad"/>
<rect x="404.01" y="290.36" width="16.58" height="12.06" fill="#fdcab5"/>
<rect x="420.59" y="290.36" width="16.58" height="12.06" fill="#fdd3c1"/>
<rect x="39.25" y="302.42" width="16.58" height="12.06" fill="#a10e15"/>
<rect x="55.83" y="302.42" width="16.58" height="12.06" fill="#b61319"/>
<rect x="72.41" y="302.42" width="16.58" height="12.06" fill="#c2161b"/>
<rect x="88.99" y="302.42" width="16.58" height="12.06" fill="#ca181d"/>
<rect x="105.57" y="302.42" width="16.58" height="12.06" fill="#ce1a1e"/>
<rect x="122.15" y="302.42" width="16.58" height="12.06" fill="#ca181d"/>
<rect x="138.73" y="302.42" width="16.58" height="12.06" fill="#f14432"/>
<rect x="155.31" y="302.42" width="16.58" height="12.06" fill="#f03d2d"/>
<rect x="171.89" y="302.42" width="16.58" height="12.06" fill="#f14432"/>
<rect x="188.47" y="302.42" width="16.58" height="12.06" fill="#f14432"/>
<rect x="205.05" y="302.42" width="16.58" height="12.06" fill="#f34c37"/>
<rect x="221.63" y="302.42" width="16.58" height="12.06" fill="#f34c37"/>
<rect x="238.21" y="302.42" width="16.58" height="12.06" fill="#fb7151"/>
<rect x="254.79" y="302.42" width="16.58" height="12.06" fill="#fb7151"/>
<rect x="271.37" y="302.42" width="16.58" height="12.06" fill="#fc8464"/>
<rect x="287.95" y="302.42" width="16.58" height="12.06" fill="#fc8a6a"/>
<rect x="304.53" y="302.42" width="16.58" height="12.06" fill="#fcbba1"/>
<rect x="321.11" y="302.42" width="16.58" height="12.06" fill="#fcab8f"/>
<rect x="337.69" y="302.42" width="16.58" height="12.06" fill="#fcb296"/>
<rect x="354.27" y="302.42" width="16.58" height="12.06" fill="#fed9c9"/>
<rect x="370.85" y="302.42" width="16.58" height="12.06" fill="#fdd0bc"/>
<rect x="387.43" y="302.42" width="16.58" height="12.06" fill="#fdd0bc"/>
<rect x="404.01" y="302.42" width="16.58" height="12.06" fill="#fee1d4"/>
<rect x="420.59" y="302.42" width="16.58" height="12.06" fill="#fee5d8"/>
<rect x="39.25" y="314.48" width="16.58" height="12.06" fill="#8e0912"/>
<rect x="55.83" y="314.48" width="16.58" height="12.06" fill="#8e0912"/>
<rect x="72.41" y="314.48" width="16.58" height="12.06" fill="#af1117"/>
<rect x="88.99" y="314.48" width="16.58" height="12.06" fill="#c2161b"/>
<rect x="105.57" y="314.48" width="16.58" height="12.06" fill="#c8171c"/>
<rect x="122.15" y="314.48" width="16.58" height="12.06" fill="#ca181d"/>
<rect x="138.73" y="314.48" width="16.58" height="12.06" fill="#c2161b"/>
<rect x="155.31" y="314.48" width="16.58" height="12.06" fill="#f03d2d"/>
<rect x="171.89" y="314.48" width="16.58" height="12.06" fill="#eb372a"/>
<rect x="188.47" y="314.48" width="16.58" height="12.06" fill="#d92523"/>
<rect x="205.05" y="314.48" width="16.58" height="12.06" fill="#f03d2d"/>
<rect x="221.63" y="314.48" width="16.58" height="12.06" fill="#e53228"/>
<rect x="238.21" y="314.48" width="16.58" height="12.06" fill="#f5533b"/>
<rect x="254.79" y="314.48" width="16.58" height="12.06" fill="#f5533b"/>
<rect x="271.37" y="314.48" width="16.58" height="12.06" fill="#f5533b"/>
<rect x="287.95" y="314.48" width="16.58" height="12.06" fill="#fc9474"/>
<rect x="304.53" y="314.48" width="16.58" height="12.06" fill="#fc8a6a"/>
<rect x="321.11" y="314.48" width="16.58" height="12.06" fill="#fc9070"/>
<rect x="337.69" y="314.48" width="16.58" height="12.06" fill="#fee1d4"/>
<rect x="354.27" y="314.48" width="16.58" height="12.06" fill="#fee1d4"/>
<rect x="370.85" y="314.48" width="16.58" height="12.06" fill="#fee1d4"/>
<rect x="387.43" y="314.48" width="16.58" height="12.06" fill="#fee5d8"/>
<rect x="404.01" y="314.48" width="16.58" height="12.06" fill="#fee8dd"/>
<rect x="420.59" y="314.48" width="16.58" height="12.06" fill="#fee5d8"/>
<rect x="39.25" y="326.54" width="16.58" height="12.06" fill="#8e0912"/>
<rect x="55.83" y="326.54" width="16.58" height="12.06" fill="#840711"/>
<rect x="72.41" y="326.54" width="16.58" height="12.06" fill="#a10e15"/>
<rect x="88.99" y="326.54" width="16.58" height="12.06" fill="#ac1117"/>
<rect x="105.57" y="326.54" width="16.58" height="12.06" fill="#b61319"/>
<rect x="122.15" y="326.54" width="16.58" height="12.06" fill="#c2161b"/>
<rect x="138.73" y="326.54" width="16.58" height="12.06" fill="#ce1a1e"/>
<rect x="155.31" y="326.54" width="16.58" height="12.06" fill="#bc141a"/>
<rect x="171.89" y="326.54" width="16.58" height="12.06" fill="#f03d2d"/>
<rect x="188.47" y="326.54" width="16.58" height="12.06" fill="#d32020"/>
<rect x="205.05" y="326.54" width="16.58" height="12.06" fill="#f14432"/>
<rect x="221.63" y="326.54" width="16.58" height="12.06" fill="#d92523"/>
<rect x="238.21" y="326.54" width="16.58" height="12.06" fill="#f14432"/>
<rect x="254.79" y="326.54" width="16.58" height="12.06" fill="#de2b25"/>
<rect x="271.37" y="326.54" width="16.58" height="12.06" fill="#f96245"/>
<rect x="287.95" y="326.54" width="16.58" height="12.06" fill="#f34c37"/>
<rect x="304.53" y="326.54" width="16.58" height="12.06" fill="#fc8a6a"/>
<rect x="321.11" y="326.54" width="16.58" height="12.06" fill="#fc9070"/>
<rect x="337.69" y="326.54" width="16.58" height="12.06" fill="#fcbea5"/>
<rect x="354.27" y="326.54" width="16.58" height="12.06" fill="#fcae92"/>
<rect x="370.85" y="326.54" width="16.58" height="12.06" fill="#fed9c9"/>
<rect x="387.43" y="326.54" width="16.58" height="12.06" fill="#fdd0bc"/>
<rect x="404.01" y="326.54" width="16.58" height="12.06" fill="#fee8dd"/>
<rect x="420.59" y="326.54" width="16.58" height="12.06" fill="#fee8dd"/>
<rect x="39.25" y="338.60" width="16.58" height="12.06" fill="#8e0912"/>
<rect x="55.83" y="338.60" width="16.58" height="12.06" fill="#840711"/>
<rect x="72.41" y="338.60" width="16.58" height="12.06" fill="#840711"/>
<rect x="88.99" y="338.60" width="16.58" height="12.06" fill="#b21218"/>
<rect x="105.57" y="338.60" width="16.58" height="12.06" fill="#ac1117"/>
<rect x="122.15" y="338.60" width="16.58" height="12.06" fill="#bc141a"/>
<rect x="138.73" y="338.60" width="16.58" height="12.06" fill="#ca181d"/>
<rect x="155.31" y="338.60" width="16.58" height="12.06" fill="#c8171c"/>
<rect x="171.89" y="338.60" width="16.58" height="12.06" fill="#de2b25"/>
<rect x="188.47" y="338.60" width="16.58" height="12.06" fill="#f34c37"/>
<rect x="205.05" y="338.60" width="16.58" height="12.06" fill="#e83429"/>
<rect x="221.63" y="338.60" width="16.58" height="12.06" fill="#f34c37"/>
<rect x="238.21" y="338.60" width="16.58" height="12.06" fill="#f5533b"/>
<rect x="254.79" y="338.60" width="16.58" height="12.06" fill="#f34c37"/>
<rect x="271.37" y="338.60" width="16.58" height="12.06" fill="#f03d2d"/>
<rect x="287.95" y="338.60" width="16.58" height="12.06" fill="#fb694a"/>
<rect x="304.53" y="338.60" width="16.58" height="12.06" fill="#fb694a"/>
<rect x="321.11" y="338.60" width="16.58" height="12.06" fill="#fcbba1"/>
<rect x="337.69" y="338.60" width="16.58" height="12.06" fill="#fcbba1"/>
<rect x="354.27" y="338.60" width="16.58" height="12.06" fill="#fca588"/>
<rect x="370.85" y="338.60" width="16.58" height="12.06" fill="#fcbba1"/>
<rect x="387.43" y="338.60" width="16.58" height="12.06" fill="#fed9c9"/>
<rect x="404.01" y="338.60" width="16.58" height="12.06" fill="#fed9c9"/>
<rect x="420.59" y="338.60" width="16.58" height="12.06" fill="#fcbba1"/>
<rect x="39.25" y="350.66" width="16.58" height="12.06" fill="#880811"/>
<rect x="55.83" y="350.66" width="16.58" height="12.06" fill="#7a0510"/>
<rect x="72.41" y="350.66" width="16.58" height="12.06" fill="#880811"/>
<rect x="88.99" y="350.66" width="16.58" height="12.06" fill="#840711"/>
<rect x="105.57" y="350.66" width="16.58" height="12.06" fill="#a10e15"/>
<rect x="122.15" y="350.66" width="16.58" height="12.06" fill="#ac1117"/>
<rect x="138.73" y="350.66" width="16.58" height="12.06" fill="#c2161b"/>
<rect x="155.31" y="350.66" width="16.58" height="12.06" fill="#bc141a"/>
<rect x="171.89" y="350.66" width="16.58" height="12.06" fill="#c8171c"/>
<rect x="188.47" y="350.66" width="16.58" height="12.06" fill="#de2b25"/>
<rect x="205.05" y="350.66" width="16.58" height="12.06" fill="#ed392b"/>
<rect x="221.63" y="350.66" width="16.58" height="12.06" fill="#d32020"/>
<rect x="238.21" y="350.66" width="16.58" height="12.06" fill="#f96245"/>
<rect x="254.79" y="350.66" width="16.58" height="12.06" fill="#eb372a"/>
<rect x="271.37" y="350.66" width="16.58" height="12.06" fill="#f96245"/>
<rect x="287.95" y="350.66" width="16.58" height="12.06" fill="#f14432"/>
<rect x="304.53" y="350.66" width="16.58" height="12.06" fill="#f75b40"/>
<rect x="321.11" y="350.66" width="16.58" height="12.06" fill="#f96245"/>
<rect x="337.69" y="350.66" width="16.58" height="12.06" fill="#fcc4ad"/>
<rect x="354.27" y="350.66" width="16.58" height="12.06" fill="#fc9b7c"/>
<rect x="370.85" y="350.66" width="16.58" height="12.06" fill="#fcc4ad"/>
<rect x="387.43" y="350.66" width="16.58" height="12.06" fill="#fee5d8"/>
<rect x="404.01" y="350.66" width="16.58" height="12.06" fill="#fee5d8"/>
<rect x="420.59" y="350.66" width="16.58" height="12.06" fill="#fee8dd"/>
<line x1="55.83" x2="55.83" y1="218.0" y2="362.72" stroke="#fff" stroke-opacity="0.55" stroke-width="0.9"/>
<line x1="72.41" x2="72.41" y1="218.0" y2="362.72" stroke="#fff" stroke-opacity="0.55" stroke-width="0.9"/>
<line x1="88.99" x2="88.99" y1="218.0" y2="362.72" stroke="#fff" stroke-opacity="0.55" stroke-width="0.9"/>
<line x1="105.57" x2="105.57" y1="218.0" y2="362.72" stroke="#fff" stroke-opacity="0.55" stroke-width="0.9"/>
<line x1="122.15" x2="122.15" y1="218.0" y2="362.72" stroke="#fff" stroke-opacity="0.55" stroke-width="0.9"/>
<line x1="138.73" x2="138.73" y1="218.0" y2="362.72" stroke="#fff" stroke-opacity="0.55" stroke-width="0.9"/>
<line x1="155.31" x2="155.31" y1="218.0" y2="362.72" stroke="#fff" stroke-opacity="0.55" stroke-width="0.9"/>
<line x1="171.89" x2="171.89" y1="218.0" y2="362.72" stroke="#fff" stroke-opacity="0.55" stroke-width="0.9"/>
<line x1="188.47" x2="188.47" y1="218.0" y2="362.72" stroke="#fff" stroke-opacity="0.55" stroke-width="0.9"/>
<line x1="205.05" x2="205.05" y1="218.0" y2="362.72" stroke="#fff" stroke-opacity="0.55" stroke-width="0.9"/>
<line x1="221.63" x2="221.63" y1="218.0" y2="362.72" stroke="#fff" stroke-opacity="0.55" stroke-width="0.9"/>
<line x1="238.21" x2="238.21" y1="218.0" y2="362.72" stroke="#fff" stroke-opacity="0.55" stroke-width="0.9"/>
<line x1="254.79" x2="254.79" y1="218.0" y2="362.72" stroke="#fff" stroke-opacity="0.55" stroke-width="0.9"/>
<line x1="271.37" x2="271.37" y1="218.0" y2="362.72" stroke="#fff" stroke-opacity="0.55" stroke-width="0.9"/>
<line x1="287.95" x2="287.95" y1="218.0" y2="362.72" stroke="#fff" stroke-opacity="0.55" stroke-width="0.9"/>
<line x1="304.53" x2="304.53" y1="218.0" y2="362.72" stroke="#fff" stroke-opacity="0.55" stroke-width="0.9"/>
<line x1="321.11" x2="321.11" y1="218.0" y2="362.72" stroke="#fff" stroke-opacity="0.55" stroke-width="0.9"/>
<line x1="337.69" x2="337.69" y1="218.0" y2="362.72" stroke="#fff" stroke-opacity="0.55" stroke-width="0.9"/>
<line x1="354.27" x2="354.27" y1="218.0" y2="362.72" stroke="#fff" stroke-opacity="0.55" stroke-width="0.9"/>
<line x1="370.85" x2="370.85" y1="218.0" y2="362.72" stroke="#fff" stroke-opacity="0.55" stroke-width="0.9"/>
<line x1="387.43" x2="387.43" y1="218.0" y2="362.72" stroke="#fff" stroke-opacity="0.55" stroke-width="0.9"/>
<line x1="404.01" x2="404.01" y1="218.0" y2="362.72" stroke="#fff" stroke-opacity="0.55" stroke-width="0.9"/>
<line x1="420.59" x2="420.59" y1="218.0" y2="362.72" stroke="#fff" stroke-opacity="0.55" stroke-width="0.9"/>
<line x1="39.25" x2="437.17" y1="230.06" y2="230.06" stroke="#fff" stroke-opacity="0.55" stroke-width="0.9"/>
<line x1="39.25" x2="437.17" y1="242.12" y2="242.12" stroke="#fff" stroke-opacity="0.55" stroke-width="0.9"/>
<line x1="39.25" x2="437.17" y1="254.18" y2="254.18" stroke="#fff" stroke-opacity="0.55" stroke-width="0.9"/>
<line x1="39.25" x2="437.17" y1="266.24" y2="266.24" stroke="#fff" stroke-opacity="0.55" stroke-width="0.9"/>
<line x1="39.25" x2="437.17" y1="278.30" y2="278.30" stroke="#fff" stroke-opacity="0.55" stroke-width="0.9"/>
<line x1="39.25" x2="437.17" y1="290.36" y2="290.36" stroke="#fff" stroke-opacity="0.55" stroke-width="0.9"/>
<line x1="39.25" x2="437.17" y1="302.42" y2="302.42" stroke="#fff" stroke-opacity="0.55" stroke-width="0.9"/>
<line x1="39.25" x2="437.17" y1="314.48" y2="314.48" stroke="#fff" stroke-opacity="0.55" stroke-width="0.9"/>
<line x1="39.25" x2="437.17" y1="326.54" y2="326.54" stroke="#fff" stroke-opacity="0.55" stroke-width="0.9"/>
<line x1="39.25" x2="437.17" y1="338.60" y2="338.60" stroke="#fff" stroke-opacity="0.55" stroke-width="0.9"/>
<line x1="39.25" x2="437.17" y1="350.66" y2="350.66" stroke="#fff" stroke-opacity="0.55" stroke-width="0.9"/>
<line x1="36.9" x2="39.2" y1="224.03" y2="224.03" stroke="#333" stroke-width="0.8"/>
<text xml:space="preserve" x="34.20" y="227.03" font-size="8.00" fill="#111" stroke="#111" stroke-width="0.16" text-anchor="end" textLength="10.52" lengthAdjust="spacingAndGlyphs">NDJ</text>
<line x1="36.9" x2="39.2" y1="236.09" y2="236.09" stroke="#333" stroke-width="0.8"/>
<text xml:space="preserve" x="34.20" y="239.09" font-size="8.00" fill="#111" stroke="#111" stroke-width="0.16" text-anchor="end" textLength="9.51" lengthAdjust="spacingAndGlyphs">DJF</text>
<line x1="36.9" x2="39.2" y1="248.15" y2="248.15" stroke="#333" stroke-width="0.8"/>
<text xml:space="preserve" x="34.20" y="251.15" font-size="8.00" fill="#111" stroke="#111" stroke-width="0.16" text-anchor="end" textLength="10.05" lengthAdjust="spacingAndGlyphs">JFM</text>
<line x1="36.9" x2="39.2" y1="260.21" y2="260.21" stroke="#333" stroke-width="0.8"/>
<text xml:space="preserve" x="34.20" y="263.21" font-size="8.00" fill="#111" stroke="#111" stroke-width="0.16" text-anchor="end" textLength="12.31" lengthAdjust="spacingAndGlyphs">FMA</text>
<line x1="36.9" x2="39.2" y1="272.27" y2="272.27" stroke="#333" stroke-width="0.8"/>
<text xml:space="preserve" x="34.20" y="275.27" font-size="8.00" fill="#111" stroke="#111" stroke-width="0.16" text-anchor="end" textLength="13.98" lengthAdjust="spacingAndGlyphs">MAM</text>
<line x1="36.9" x2="39.2" y1="284.33" y2="284.33" stroke="#333" stroke-width="0.8"/>
<text xml:space="preserve" x="34.20" y="287.33" font-size="8.00" fill="#111" stroke="#111" stroke-width="0.16" text-anchor="end" textLength="10.68" lengthAdjust="spacingAndGlyphs">AMJ</text>
<line x1="36.9" x2="39.2" y1="296.39" y2="296.39" stroke="#333" stroke-width="0.8"/>
<text xml:space="preserve" x="34.20" y="299.39" font-size="8.00" fill="#111" stroke="#111" stroke-width="0.16" text-anchor="end" textLength="8.43" lengthAdjust="spacingAndGlyphs">MJJ</text>
<line x1="36.9" x2="39.2" y1="308.45" y2="308.45" stroke="#333" stroke-width="0.8"/>
<text xml:space="preserve" x="34.20" y="311.45" font-size="8.00" fill="#111" stroke="#111" stroke-width="0.16" text-anchor="end" textLength="7.29" lengthAdjust="spacingAndGlyphs">JJA</text>
<line x1="36.9" x2="39.2" y1="320.51" y2="320.51" stroke="#333" stroke-width="0.8"/>
<text xml:space="preserve" x="34.20" y="323.51" font-size="8.00" fill="#111" stroke="#111" stroke-width="0.16" text-anchor="end" textLength="9.26" lengthAdjust="spacingAndGlyphs">JAS</text>
<line x1="36.9" x2="39.2" y1="332.57" y2="332.57" stroke="#333" stroke-width="0.8"/>
<text xml:space="preserve" x="34.20" y="335.57" font-size="8.00" fill="#111" stroke="#111" stroke-width="0.16" text-anchor="end" textLength="12.22" lengthAdjust="spacingAndGlyphs">ASO</text>
<line x1="36.9" x2="39.2" y1="344.63" y2="344.63" stroke="#333" stroke-width="0.8"/>
<text xml:space="preserve" x="34.20" y="347.63" font-size="8.00" fill="#111" stroke="#111" stroke-width="0.16" text-anchor="end" textLength="12.59" lengthAdjust="spacingAndGlyphs">SON</text>
<line x1="36.9" x2="39.2" y1="356.69" y2="356.69" stroke="#333" stroke-width="0.8"/>
<text xml:space="preserve" x="34.20" y="359.69" font-size="8.00" fill="#111" stroke="#111" stroke-width="0.16" text-anchor="end" textLength="13.37" lengthAdjust="spacingAndGlyphs">OND</text>
<line x1="47.54" x2="47.54" y1="363.6" y2="366.0" stroke="#333" stroke-width="0.8"/>
<text xml:space="preserve" x="47.54" y="374.10" font-size="7.28" fill="#111" stroke="#111" stroke-width="0.16" text-anchor="middle">1</text>
<line x1="64.12" x2="64.12" y1="363.6" y2="366.0" stroke="#333" stroke-width="0.8"/>
<text xml:space="preserve" x="64.12" y="374.10" font-size="7.28" fill="#111" stroke="#111" stroke-width="0.16" text-anchor="middle">2</text>
<line x1="80.70" x2="80.70" y1="363.6" y2="366.0" stroke="#333" stroke-width="0.8"/>
<text xml:space="preserve" x="80.70" y="374.10" font-size="7.28" fill="#111" stroke="#111" stroke-width="0.16" text-anchor="middle">3</text>
<line x1="97.28" x2="97.28" y1="363.6" y2="366.0" stroke="#333" stroke-width="0.8"/>
<text xml:space="preserve" x="97.28" y="374.10" font-size="7.28" fill="#111" stroke="#111" stroke-width="0.16" text-anchor="middle">4</text>
<line x1="113.86" x2="113.86" y1="363.6" y2="366.0" stroke="#333" stroke-width="0.8"/>
<text xml:space="preserve" x="113.86" y="374.10" font-size="7.28" fill="#111" stroke="#111" stroke-width="0.16" text-anchor="middle">5</text>
<line x1="130.44" x2="130.44" y1="363.6" y2="366.0" stroke="#333" stroke-width="0.8"/>
<text xml:space="preserve" x="130.44" y="374.10" font-size="7.28" fill="#111" stroke="#111" stroke-width="0.16" text-anchor="middle">6</text>
<line x1="147.02" x2="147.02" y1="363.6" y2="366.0" stroke="#333" stroke-width="0.8"/>
<text xml:space="preserve" x="147.02" y="374.10" font-size="7.28" fill="#111" stroke="#111" stroke-width="0.16" text-anchor="middle">7</text>
<line x1="163.60" x2="163.60" y1="363.6" y2="366.0" stroke="#333" stroke-width="0.8"/>
<text xml:space="preserve" x="163.60" y="374.10" font-size="7.28" fill="#111" stroke="#111" stroke-width="0.16" text-anchor="middle">8</text>
<line x1="180.18" x2="180.18" y1="363.6" y2="366.0" stroke="#333" stroke-width="0.8"/>
<text xml:space="preserve" x="180.18" y="374.10" font-size="7.28" fill="#111" stroke="#111" stroke-width="0.16" text-anchor="middle">9</text>
<line x1="196.76" x2="196.76" y1="363.6" y2="366.0" stroke="#333" stroke-width="0.8"/>
<text xml:space="preserve" x="196.76" y="374.10" font-size="7.28" fill="#111" stroke="#111" stroke-width="0.16" text-anchor="middle" textLength="7.13" lengthAdjust="spacingAndGlyphs">10</text>
<line x1="213.34" x2="213.34" y1="363.6" y2="366.0" stroke="#333" stroke-width="0.8"/>
<text xml:space="preserve" x="213.34" y="374.10" font-size="7.28" fill="#111" stroke="#111" stroke-width="0.16" text-anchor="middle" textLength="7.13" lengthAdjust="spacingAndGlyphs">11</text>
<line x1="229.92" x2="229.92" y1="363.6" y2="366.0" stroke="#333" stroke-width="0.8"/>
<text xml:space="preserve" x="229.92" y="374.10" font-size="7.28" fill="#111" stroke="#111" stroke-width="0.16" text-anchor="middle" textLength="7.13" lengthAdjust="spacingAndGlyphs">12</text>
<line x1="246.50" x2="246.50" y1="363.6" y2="366.0" stroke="#333" stroke-width="0.8"/>
<text xml:space="preserve" x="246.50" y="374.10" font-size="7.28" fill="#111" stroke="#111" stroke-width="0.16" text-anchor="middle" textLength="7.13" lengthAdjust="spacingAndGlyphs">13</text>
<line x1="263.08" x2="263.08" y1="363.6" y2="366.0" stroke="#333" stroke-width="0.8"/>
<text xml:space="preserve" x="263.08" y="374.10" font-size="7.28" fill="#111" stroke="#111" stroke-width="0.16" text-anchor="middle" textLength="7.13" lengthAdjust="spacingAndGlyphs">14</text>
<line x1="279.66" x2="279.66" y1="363.6" y2="366.0" stroke="#333" stroke-width="0.8"/>
<text xml:space="preserve" x="279.66" y="374.10" font-size="7.28" fill="#111" stroke="#111" stroke-width="0.16" text-anchor="middle" textLength="7.13" lengthAdjust="spacingAndGlyphs">15</text>
<line x1="296.24" x2="296.24" y1="363.6" y2="366.0" stroke="#333" stroke-width="0.8"/>
<text xml:space="preserve" x="296.24" y="374.10" font-size="7.28" fill="#111" stroke="#111" stroke-width="0.16" text-anchor="middle" textLength="7.13" lengthAdjust="spacingAndGlyphs">16</text>
<line x1="312.82" x2="312.82" y1="363.6" y2="366.0" stroke="#333" stroke-width="0.8"/>
<text xml:space="preserve" x="312.82" y="374.10" font-size="7.28" fill="#111" stroke="#111" stroke-width="0.16" text-anchor="middle" textLength="7.13" lengthAdjust="spacingAndGlyphs">17</text>
<line x1="329.40" x2="329.40" y1="363.6" y2="366.0" stroke="#333" stroke-width="0.8"/>
<text xml:space="preserve" x="329.40" y="374.10" font-size="7.28" fill="#111" stroke="#111" stroke-width="0.16" text-anchor="middle" textLength="7.13" lengthAdjust="spacingAndGlyphs">18</text>
<line x1="345.98" x2="345.98" y1="363.6" y2="366.0" stroke="#333" stroke-width="0.8"/>
<text xml:space="preserve" x="345.98" y="374.10" font-size="7.28" fill="#111" stroke="#111" stroke-width="0.16" text-anchor="middle" textLength="7.13" lengthAdjust="spacingAndGlyphs">19</text>
<line x1="362.56" x2="362.56" y1="363.6" y2="366.0" stroke="#333" stroke-width="0.8"/>
<text xml:space="preserve" x="362.56" y="374.10" font-size="7.28" fill="#111" stroke="#111" stroke-width="0.16" text-anchor="middle" textLength="7.13" lengthAdjust="spacingAndGlyphs">20</text>
<line x1="379.14" x2="379.14" y1="363.6" y2="366.0" stroke="#333" stroke-width="0.8"/>
<text xml:space="preserve" x="379.14" y="374.10" font-size="7.28" fill="#111" stroke="#111" stroke-width="0.16" text-anchor="middle" textLength="7.13" lengthAdjust="spacingAndGlyphs">21</text>
<line x1="395.72" x2="395.72" y1="363.6" y2="366.0" stroke="#333" stroke-width="0.8"/>
<text xml:space="preserve" x="395.72" y="374.10" font-size="7.28" fill="#111" stroke="#111" stroke-width="0.16" text-anchor="middle" textLength="7.13" lengthAdjust="spacingAndGlyphs">22</text>
<line x1="412.30" x2="412.30" y1="363.6" y2="366.0" stroke="#333" stroke-width="0.8"/>
<text xml:space="preserve" x="412.30" y="374.10" font-size="7.28" fill="#111" stroke="#111" stroke-width="0.16" text-anchor="middle" textLength="7.13" lengthAdjust="spacingAndGlyphs">23</text>
<line x1="428.88" x2="428.88" y1="363.6" y2="366.0" stroke="#333" stroke-width="0.8"/>
<text xml:space="preserve" x="428.88" y="374.10" font-size="7.28" fill="#111" stroke="#111" stroke-width="0.16" text-anchor="middle" textLength="7.13" lengthAdjust="spacingAndGlyphs">24</text>
<text xml:space="preserve" x="196.10" y="383.80" font-size="7.95" fill="#111" stroke="#111" stroke-width="0.1" text-anchor="start" textLength="84.30" lengthAdjust="spacingAndGlyphs">Forecast lead (month)</text>
<text xml:space="preserve" transform="translate(15.90,317.00) rotate(-90)" font-size="8.20" fill="#111" stroke="#111" stroke-width="0.1" text-anchor="start" textLength="54.40" lengthAdjust="spacingAndGlyphs">Target season</text>
<text xml:space="preserve" x="83.70" y="213.50" font-size="10.38" font-weight="bold" fill="#000" stroke="#000" stroke-width="0.15" text-anchor="start" textLength="309.10" lengthAdjust="spacingAndGlyphs">BCNN Nino 3.4 correlation with NCEP GODAS (1991-2020)</text>
<defs><linearGradient id="cb" x1="0" y1="1" x2="0" y2="0">
<stop offset="0.000" stop-color="#fff5f0"/>
<stop offset="0.025" stop-color="#fff1ea"/>
<stop offset="0.050" stop-color="#ffede5"/>
<stop offset="0.075" stop-color="#fee8de"/>
<stop offset="0.100" stop-color="#fee5d8"/>
<stop offset="0.125" stop-color="#fee0d2"/>
<stop offset="0.150" stop-color="#fed9c9"/>
<stop offset="0.175" stop-color="#fdd2bf"/>
<stop offset="0.200" stop-color="#fdcab5"/>
<stop offset="0.225" stop-color="#fcc3ab"/>
<stop offset="0.250" stop-color="#fcbba1"/>
<stop offset="0.275" stop-color="#fcb398"/>
<stop offset="0.300" stop-color="#fcab8f"/>
<stop offset="0.325" stop-color="#fca285"/>
<stop offset="0.350" stop-color="#fc9b7c"/>
<stop offset="0.375" stop-color="#fc9272"/>
<stop offset="0.400" stop-color="#fc8a6a"/>
<stop offset="0.425" stop-color="#fc8262"/>
<stop offset="0.450" stop-color="#fb7a5a"/>
<stop offset="0.475" stop-color="#fb7252"/>
<stop offset="0.500" stop-color="#fb694a"/>
<stop offset="0.525" stop-color="#f96044"/>
<stop offset="0.550" stop-color="#f6583e"/>
<stop offset="0.575" stop-color="#f44d38"/>
<stop offset="0.600" stop-color="#f14432"/>
<stop offset="0.625" stop-color="#ee3a2c"/>
<stop offset="0.650" stop-color="#e83429"/>
<stop offset="0.675" stop-color="#e12d26"/>
<stop offset="0.700" stop-color="#d92523"/>
<stop offset="0.725" stop-color="#d21f20"/>
<stop offset="0.750" stop-color="#ca181d"/>
<stop offset="0.775" stop-color="#c3161b"/>
<stop offset="0.800" stop-color="#bc141a"/>
<stop offset="0.825" stop-color="#b31218"/>
<stop offset="0.850" stop-color="#ac1117"/>
<stop offset="0.875" stop-color="#a30f15"/>
<stop offset="0.900" stop-color="#980c13"/>
<stop offset="0.925" stop-color="#8c0912"/>
<stop offset="0.950" stop-color="#7e0610"/>
<stop offset="0.975" stop-color="#73030f"/>
<stop offset="1.000" stop-color="#67000d"/>
</linearGradient></defs>
<rect x="462.1" y="217.7" width="7.20" height="145.60" fill="url(#cb)"/>
<line x1="469.3" x2="471.50" y1="363.30" y2="363.30" stroke="#333" stroke-width="0.8"/>
<text xml:space="preserve" x="474.00" y="366.20" font-size="6.95" fill="#111" stroke="#111" stroke-width="0.16" text-anchor="start" textLength="10.00" lengthAdjust="spacingAndGlyphs">0.0</text>
<line x1="469.3" x2="471.50" y1="334.18" y2="334.18" stroke="#333" stroke-width="0.8"/>
<text xml:space="preserve" x="474.00" y="337.08" font-size="6.95" fill="#111" stroke="#111" stroke-width="0.16" text-anchor="start" textLength="10.00" lengthAdjust="spacingAndGlyphs">0.2</text>
<line x1="469.3" x2="471.50" y1="305.06" y2="305.06" stroke="#333" stroke-width="0.8"/>
<text xml:space="preserve" x="474.00" y="307.96" font-size="6.95" fill="#111" stroke="#111" stroke-width="0.16" text-anchor="start" textLength="10.00" lengthAdjust="spacingAndGlyphs">0.4</text>
<line x1="469.3" x2="471.50" y1="275.94" y2="275.94" stroke="#333" stroke-width="0.8"/>
<text xml:space="preserve" x="474.00" y="278.84" font-size="6.95" fill="#111" stroke="#111" stroke-width="0.16" text-anchor="start" textLength="10.00" lengthAdjust="spacingAndGlyphs">0.6</text>
<line x1="469.3" x2="471.50" y1="246.82" y2="246.82" stroke="#333" stroke-width="0.8"/>
<text xml:space="preserve" x="474.00" y="249.72" font-size="6.95" fill="#111" stroke="#111" stroke-width="0.16" text-anchor="start" textLength="10.00" lengthAdjust="spacingAndGlyphs">0.8</text>
<line x1="469.3" x2="471.50" y1="217.70" y2="217.70" stroke="#333" stroke-width="0.8"/>
<text xml:space="preserve" x="474.00" y="220.60" font-size="6.95" fill="#111" stroke="#111" stroke-width="0.16" text-anchor="start" textLength="10.00" lengthAdjust="spacingAndGlyphs">1.0</text>
<text xml:space="preserve" transform="translate(492.60,309.10) rotate(-90)" font-size="6.84" fill="#111" stroke="#111" stroke-width="0.08" text-anchor="start" textLength="36.30" lengthAdjust="spacingAndGlyphs">Correlation</text>
</g>
<rect x="0" y="0" width="508" height="1" fill="#000"/>
<rect x="499" y="0" width="9" height="393" fill="#000"/>
<rect x="0" y="391" width="508" height="2" fill="#000"/>
<rect x="0" y="194" width="508" height="7" fill="#000"/>
<rect x="0" y="194" width="4" height="199" fill="#000"/>
<rect x="15.7" y="192.9" width="2.4" height="1.3" rx="0.6" fill="#000"/>
<path d="M15.8 200.5 L21.9 200.5 L21.6 201.8 Q20.5 202.8 18.8 202.6 Q16.6 202.8 16.1 202.2 Z" fill="#000"/>
<rect x="1" y="1" width="0.8" height="192" fill="#ececec"/>
<rect x="1" y="2" width="497" height="0.8" fill="#f2f2f2"/>
</svg></body></html>
